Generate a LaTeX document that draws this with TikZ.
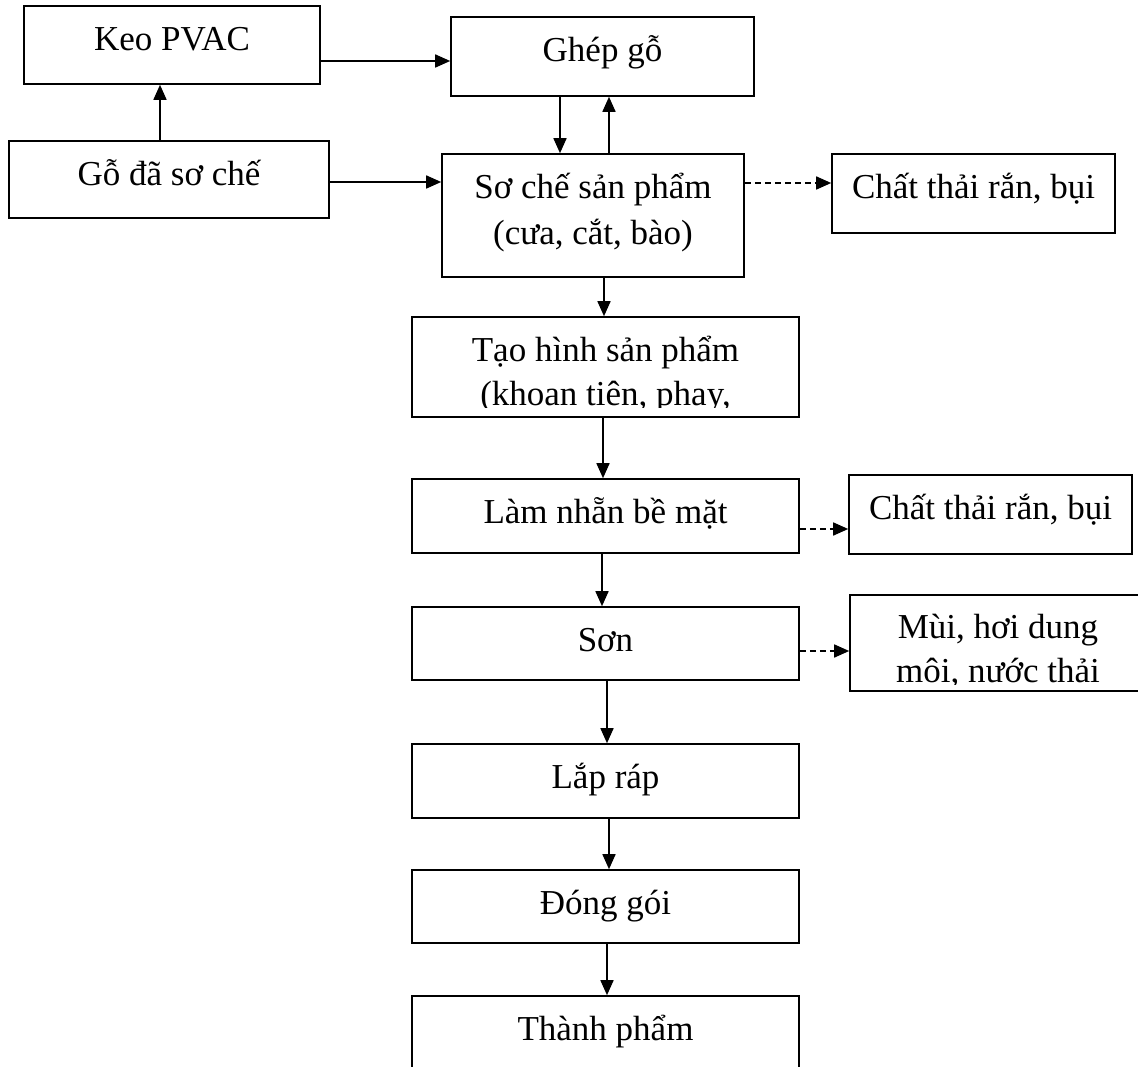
\documentclass[tikz,border=0pt]{standalone}
\usepackage{fontspec}
\setmainfont{Liberation Serif}
\usetikzlibrary{arrows.meta}
\begin{document}
\begin{tikzpicture}[x=1pt,y=-1pt,
  box/.style={draw, line width=1.6pt, rectangle, inner sep=0pt, fill=white},
  txt/.style={anchor=base, inner sep=0pt, font=\fontsize{35}{46}\selectfont},
  arr/.style={line width=1.6pt, -{Triangle[length=15pt,width=13pt]}},
  darr/.style={arr, dash pattern=on 6pt off 4pt}]
\useasboundingbox (0,0) rectangle (1138,1067);

% boxes: centre, width, height
\node[box, minimum width=296pt, minimum height=78pt]  (keo)  at (172,45)    {};
\node[box, minimum width=303pt, minimum height=79pt]  (ghep) at (602.5,56.5) {};
\node[box, minimum width=320pt, minimum height=77pt]  (go)   at (169,179.5) {};
\node[box, minimum width=302pt, minimum height=123pt] (soche) at (593,215.5) {};
\node[box, minimum width=283pt, minimum height=79pt]  (ct1)  at (973.5,193.5) {};
\node[box, minimum width=387pt, minimum height=100pt] (taohinh) at (605.5,367) {};
\node[box, minimum width=387pt, minimum height=74pt]  (lamnhan) at (605.5,516) {};
\node[box, minimum width=283pt, minimum height=79pt]  (ct2)  at (990.5,514.5) {};
\node[box, minimum width=387pt, minimum height=73pt]  (son)  at (605.5,643.5) {};
\node[box, minimum width=296pt, minimum height=96pt]  (mui)  at (998,643) {};
\node[box, minimum width=387pt, minimum height=74pt]  (laprap) at (605.5,781) {};
\node[box, minimum width=387pt, minimum height=73pt]  (donggoi) at (605.5,906.5) {};
\node[box, minimum width=387pt, minimum height=110pt] (thanhpham) at (605.5,1051) {};

% labels
\node[txt] at ([yshift=-45pt]keo.north)  {Keo PVAC};
\node[txt] at ([yshift=-45pt]ghep.north) {Ghép gỗ};
\node[txt] at ([yshift=-45pt]go.north)   {Gỗ đã sơ chế};
\node[txt] at ([yshift=-45pt]soche.north) {Sơ chế sản phẩm};
\node[txt] at ([yshift=-91pt]soche.north) {(cưa, cắt, bào)};
\node[txt] at ([yshift=-45pt]ct1.north)  {Chất thải rắn, bụi};
\begin{scope}
  \clip (412,317) rectangle (799,407);
  \node[txt] at ([yshift=-45pt]taohinh.north) {Tạo hình sản phẩm};
  \node[txt] at ([yshift=-89pt]taohinh.north) {(khoan tiên, phay,};
\end{scope}
\node[txt] at ([yshift=-45pt]lamnhan.north) {Làm nhẵn bề mặt};
\node[txt] at ([yshift=-45pt]ct2.north)  {Chất thải rắn, bụi};
\node[txt] at ([yshift=-45pt]son.north)  {Sơn};
\begin{scope}
  \clip (850,595) rectangle (1146,684);
  \node[txt] at ([yshift=-44pt]mui.north) {Mùi, hơi dung};
  \node[txt] at ([yshift=-88pt]mui.north) {môi, nước thải};
\end{scope}
\node[txt] at ([yshift=-45pt]laprap.north)  {Lắp ráp};
\node[txt] at ([yshift=-45pt]donggoi.north) {Đóng gói};
\node[txt] at ([yshift=-45pt]thanhpham.north) {Thành phẩm};

% connectors
\draw[arr] (go.north -| 160,0) -- (keo.south -| 160,0);
\draw[arr] (keo.east |- 0,61) -- (ghep.west |- 0,61);
\draw[arr] (ghep.south -| 560,0) -- (soche.north -| 560,0);
\draw[arr] (soche.north -| 609,0) -- (ghep.south -| 609,0);
\draw[arr] (go.east |- 0,182) -- (soche.west |- 0,182);
\draw[darr] (soche.east |- 0,183) -- (ct1.west |- 0,183);
\draw[arr] (soche.south -| 604,0) -- (taohinh.north -| 604,0);
\draw[arr] (taohinh.south -| 603,0) -- (lamnhan.north -| 603,0);
\draw[darr] (lamnhan.east |- 0,529) -- (ct2.west |- 0,529);
\draw[arr] (lamnhan.south -| 602,0) -- (son.north -| 602,0);
\draw[darr] (son.east |- 0,651) -- (mui.west |- 0,651);
\draw[arr] (son.south -| 607,0) -- (laprap.north -| 607,0);
\draw[arr] (laprap.south -| 609,0) -- (donggoi.north -| 609,0);
\draw[arr] (donggoi.south -| 607,0) -- (thanhpham.north -| 607,0);
\end{tikzpicture}
\end{document}
